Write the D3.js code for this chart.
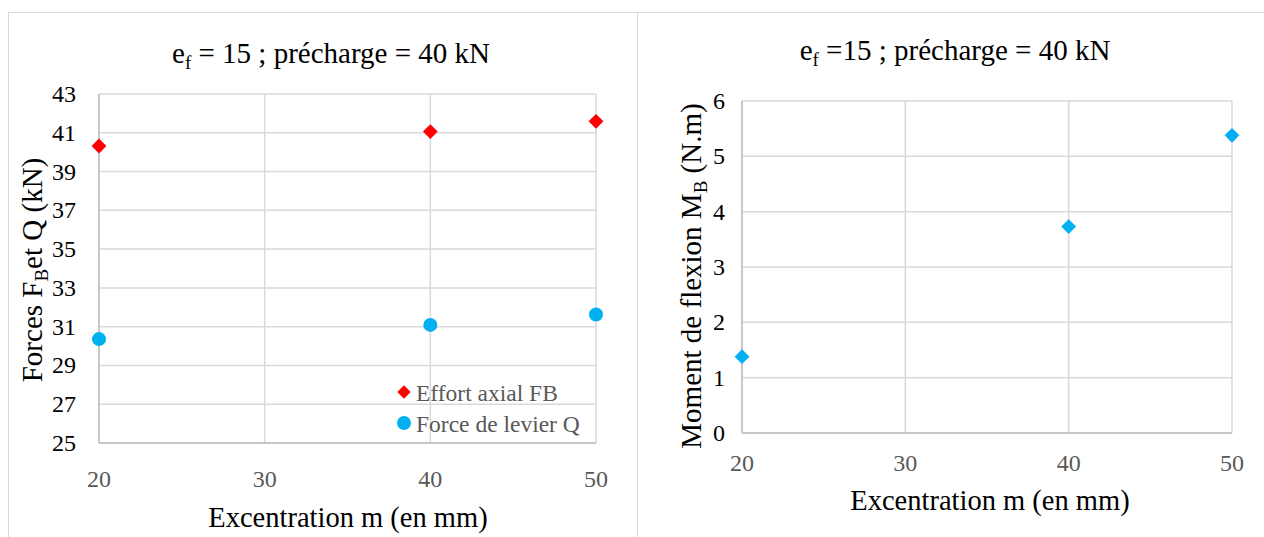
<!DOCTYPE html>
<html><head><meta charset="utf-8">
<script src="https://cdn.jsdelivr.net/npm/d3@7"></script>
<style>body{margin:0;background:#fff}</style>
</head><body><svg id="c" width="1264" height="537"></svg>
<script>
const excentration = [20, 40, 50];
const effortAxial = [40.32, 41.06, 41.59];
const forceLevier = [30.36, 31.09, 31.63];
const momentFlexion = [1.38, 3.73, 5.38];
const xTicks = [20, 30, 40, 50];
const yTicksLeft = [25, 27, 29, 31, 33, 35, 37, 39, 41, 43];
const yTicksRight = [0, 1, 2, 3, 4, 5, 6];
const legendLabels = ["Effort axial FB", "Force de levier Q"];

const FONT = "'Liberation Serif','Times New Roman',serif";
const svg = d3.select("#c").attr("font-family", FONT);
const RED = "#ff0000", BLUE = "#00b0f0", GRID = "#d9d9d9";

svg.append("rect").attr("x",8.5).attr("y",12.5).attr("width",629).attr("height",540).attr("fill","none").attr("stroke","#d9d9d9");
svg.append("rect").attr("x",637.5).attr("y",12.5).attr("width",640).attr("height",540).attr("fill","none").attr("stroke","#d9d9d9");

function panel(o){
  const g = svg.append("g").attr("font-family", FONT);
  const x = d3.scaleLinear().domain([20,50]).range([o.x0,o.x1]);
  const y = d3.scaleLinear().domain(o.ydom).range([o.y1,o.y0]);
  g.selectAll(".gy").data(o.yt).enter().append("line")
    .attr("x1",o.x0).attr("x2",o.x1).attr("y1",d=>y(d)).attr("y2",d=>y(d))
    .attr("stroke",GRID).attr("stroke-width",1.5);
  g.selectAll(".gx").data(xTicks).enter().append("line")
    .attr("x1",d=>x(d)).attr("x2",d=>x(d)).attr("y1",o.y0).attr("y2",o.y1)
    .attr("stroke",GRID).attr("stroke-width",1.5);
  g.append("line").attr("x1",o.x0).attr("x2",o.x0).attr("y1",o.y0).attr("y2",o.y1).attr("stroke","#bfbfbf").attr("stroke-width",1.5);
  g.append("line").attr("x1",o.x0).attr("x2",o.x1).attr("y1",o.y1).attr("y2",o.y1).attr("stroke","#bfbfbf").attr("stroke-width",1.5);
  g.selectAll(".ty").data(o.yt).enter().append("text")
    .attr("x",o.ylx).attr("y",d=>y(d)+8).attr("text-anchor","end")
    .attr("font-size",24).attr("fill","#000").text(d=>d);
  g.selectAll(".tx").data(xTicks).enter().append("text")
    .attr("x",d=>x(d)).attr("y",o.xly).attr("text-anchor","middle")
    .attr("font-size",24).attr("fill","#595959").text(d=>d);
  const t = g.append("text").attr("x",o.tx).attr("y",o.ty).attr("text-anchor","middle").attr("font-size",29).attr("fill","#000");
  t.append("tspan").text("e");
  t.append("tspan").attr("font-size",19).attr("dy",6).text("f");
  t.append("tspan").attr("dy",-6).text(o.title);
  g.append("text").attr("x",o.xtx).attr("y",o.xty).attr("text-anchor","middle")
    .attr("font-size",28.5).attr("fill","#000").text("Excentration m (en mm)");
  const yt = g.append("text").attr("transform",`translate(${o.yx},${o.yty}) rotate(-90)`)
    .attr("text-anchor","middle").attr("font-size",29).attr("fill","#000");
  yt.append("tspan").text(o.ylab[0]);
  yt.append("tspan").attr("font-size",19).attr("dy",6).text("B");
  yt.append("tspan").attr("dy",-6).text(o.ylab[1]);
  return {g,x,y};
}

const L = panel({x0:99,x1:596,y0:94,y1:443,ydom:[25,43],yt:yTicksLeft,ylx:76,xly:487,
  tx:331,ty:63,title:" = 15 ; précharge = 40 kN", xtx:348, xty:527,
  yx:42, yty:270, ylab:["Forces F","et Q (kN)"]});
const R = panel({x0:742,x1:1232,y0:101,y1:433,ydom:[0,6],yt:yTicksRight,ylx:725,xly:471,
  tx:955,ty:60,title:" =15 ; précharge = 40 kN", xtx:990, xty:510,
  yx:701, yty:276, ylab:["Moment de flexion M"," (N.m)"]});

function drawDiamond(g,cx,cy,col,s){
  g.append("rect").attr("x",-s/2).attr("y",-s/2).attr("width",s).attr("height",s)
   .attr("transform",`translate(${cx},${cy}) rotate(45)`).attr("fill",col);
}
excentration.forEach((m,i)=>{
  drawDiamond(L.g, L.x(m), L.y(effortAxial[i]), RED, 10.5);
  L.g.append("circle").attr("cx",L.x(m)).attr("cy",L.y(forceLevier[i])).attr("r",7).attr("fill",BLUE);
  drawDiamond(R.g, R.x(m), R.y(momentFlexion[i]), BLUE, 10.5);
});

const lg = svg.append("g").attr("font-family", FONT);
drawDiamond(lg, 404, 392, RED, 9.5);
lg.append("circle").attr("cx",404).attr("cy",423).attr("r",7).attr("fill",BLUE);
lg.selectAll("text").data(legendLabels).enter().append("text")
  .attr("x",416).attr("y",(d,i)=>401+i*31).attr("font-size",23.5).attr("fill","#595959").text(d=>d);
</script></body></html>
